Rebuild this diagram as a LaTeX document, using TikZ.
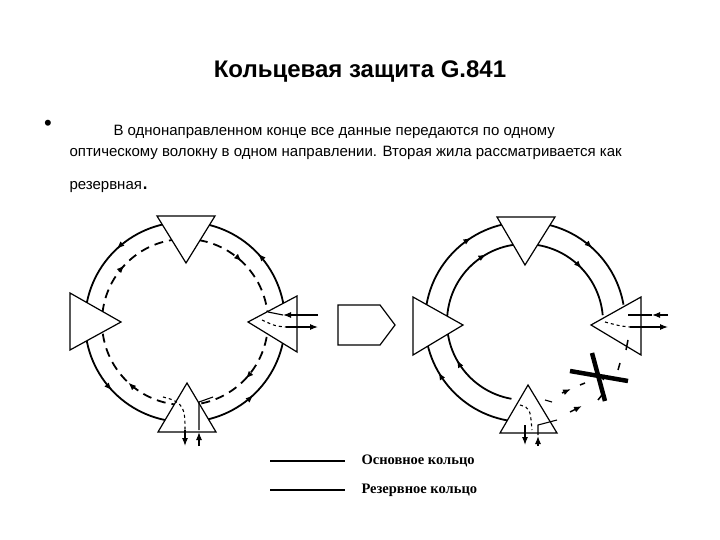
\documentclass[tikz,border=0pt]{standalone}
\usepackage{fontspec}
\setmainfont{Liberation Sans}
\newfontfamily\serifb{Liberation Serif}
\usetikzlibrary{arrows.meta,decorations.markings,calc}
\begin{document}
\begin{tikzpicture}[x=1pt,y=-1pt,
  ring/.style={line width=1.8pt},
  dring/.style={line width=1.8pt,dash pattern=on 9pt off 6pt},
  tri/.style={draw,line width=1.2pt,fill=white},
  ah/.style={},
  marks/.style={postaction={decorate},decoration={markings,
    mark=at position 0.12 with {\arrow{Latex[length=8pt,width=6pt]}},
    mark=at position 0.37 with {\arrow{Latex[length=8pt,width=6pt]}},
    mark=at position 0.62 with {\arrow{Latex[length=8pt,width=6pt]}},
    mark=at position 0.87 with {\arrow{Latex[length=8pt,width=6pt]}}}},
  marks2/.style={postaction={decorate},decoration={markings,
    mark=at position 0.2 with {\arrow{Latex[length=8pt,width=6pt]}},
    mark=at position 0.55 with {\arrow{Latex[length=8pt,width=6pt]}},
    mark=at position 0.85 with {\arrow{Latex[length=8pt,width=6pt]}}}},
  io/.style={line width=1.1pt},
  tip/.style={-{Latex[length=8pt,width=6pt]}},
  leg/.style={font=\serifb\bfseries\fontsize{14.5}{16}\selectfont,anchor=west}]
\useasboundingbox (0,0) rectangle (720,540);
\node (title) at (360,72) {\bfseries\fontsize{24}{26}\selectfont Кольцевая защита G.841};
\node (bul) at (48,125) {\fontsize{22}{22}\selectfont •};
\node[anchor=west] (l1) at (110,132) {\fontsize{15}{17}\selectfont В однонаправленном конце все данные передаются по одному};
\node[anchor=west] (l2) at (66,153) {\fontsize{15}{17}\selectfont оптическому волокну в одном направлении. Вторая жила рассматривается как};
\node[anchor=west] (l3) at (66,187) {\fontsize{15}{17}\selectfont резервная\fontsize{24}{24}\selectfont .};

% left ring
\coordinate (A) at (185,322);
\draw[ring,marks] (A) ++(0:100) arc (360:0:100);
\draw[dring,marks] (A) ++(0:83) arc (0:360:83);
\coordinate (ar1) at (283,315); \coordinate (ar2) at (318,315);
\coordinate (ar3) at (286,327); \coordinate (ar4) at (318,327);
\draw[tri] (157,216) -- (215,216) -- (186,263) -- cycle;
\draw[tri] (70,293) -- (70,350) -- (121,322) -- cycle;
\draw[tri] (297,296) -- (297,352) -- (248,322) -- cycle;
\draw[tri] (158,432) -- (216,432) -- (187,383) -- cycle;
\draw[io] (268,312) -- (ar1); \draw[io,tip] (ar2) -- (ar1);
\draw[io,dashed] (262,320) .. controls (275,326) .. (ar3); \draw[io,tip] (ar3) -- (ar4);
\draw[io,dashed] (163,397) .. controls (185,402) and (185,410) .. (185,430);
\draw[io,tip] (185,430) -- (185,446);
\draw[io] (213,397) -- (199,402) -- (199,430); \draw[io,tip] (199,446) -- (199,432);

% transition arrow
\coordinate (big) at (338,305);
\draw[line width=1.2pt] (big) -- (380,305) -- (395,325) -- (380,345) -- (338,345) -- cycle;

% right ring
\coordinate (B) at (525,322);
\draw[ring,marks2] (B) ++(100:100) arc (100:350:100);
\draw[ring,marks2] (B) ++(100:78) arc (100:355:78);
\draw[tri] (497,217) -- (555,217) -- (525,265) -- cycle;
\draw[tri] (413,297) -- (413,355) -- (463,325) -- cycle;
\draw[tri] (641,297) -- (641,355) -- (591,325) -- cycle;
\draw[tri] (500,433) -- (557,433) -- (528,385) -- cycle;
\draw[io] (628,315) -- (652,315); \draw[io,tip] (668,315) -- (652,315);
\draw[io,dashed] (605,322) .. controls (620,326) .. (630,327); \draw[io,tip] (630,327) -- (668,327);
\draw[io,dashed] (520,405) .. controls (530,408) .. (532,430);
\draw[io,tip] (525,425) -- (525,445);
\draw[io] (557,420) -- (538,425) -- (538,435); \draw[io,tip] (538,446) -- (538,436);
\draw[io] (545,400) -- (552,402);
% broken part
\draw[line width=1.5pt] (628,340) -- (626,350);
\draw[line width=1.5pt] (620,363) -- (618,370);
\draw[line width=1.5pt] (605,375) -- (603,380);
\draw[line width=1.5pt,tip] (562,393) -- (571,389);
\draw[line width=1.5pt] (580,385) -- (585,383);
\draw[line width=1.5pt,tip] (570,412) -- (582,406);
\draw[line width=1.5pt] (598,400) -- (602,395);
\draw[line width=4.5pt] (570,371) -- (628,381);
\draw[line width=4.5pt] (592,353) -- (605,401);

% legend
\draw[line width=2pt] (270,461) -- (345,461);
\draw[line width=2pt] (270,490) -- (345,490);
\node[leg] (t1) at (358,461) {Основное кольцо};
\node[leg] (t2) at (358,490) {Резервное кольцо};
\end{tikzpicture}
\end{document}
